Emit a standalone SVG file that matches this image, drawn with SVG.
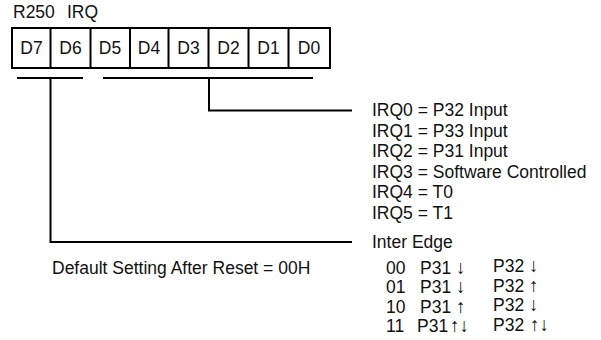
<svg xmlns="http://www.w3.org/2000/svg" width="601" height="340" viewBox="0 0 601 340">
<style>
text{font-family:"Liberation Sans",Arial,"DejaVu Sans",sans-serif;font-size:17.5px;fill:#111}
.c{text-anchor:middle}
.a{font-size:19px}
.ln{stroke:#000;stroke-width:2;fill:none}
</style>
<rect width="601" height="340" fill="#fff"/>
<g id="title"><text x="13" y="18">R250</text><text x="67" y="18">IRQ</text></g>
<g id="register">
<rect class="ln" x="12" y="28" width="318" height="40"/>
<path class="ln" d="M50.5 28V68M90.5 28V68M130 28V68M168.5 28V68M208.5 28V68M248.5 28V68M288.5 28V68"/>
<text class="c" x="31.5" y="54">D7</text>
<text class="c" x="70.5" y="54">D6</text>
<text class="c" x="110" y="54">D5</text>
<text class="c" x="149" y="54">D4</text>
<text class="c" x="188.5" y="54">D3</text>
<text class="c" x="228.5" y="54">D2</text>
<text class="c" x="268.5" y="54">D1</text>
<text class="c" x="309" y="54">D0</text>
</g>
<g id="connectors">
<path class="ln" d="M17 78H83M103 78H313"/>
<path class="ln" d="M209 78V110.5H352"/>
<path class="ln" d="M50.5 78V242H352"/>
</g>
<g id="irq-sources">
<text x="372" y="116">IRQ0 = P32 Input</text>
<text x="372" y="136.5">IRQ1 = P33 Input</text>
<text x="372" y="157">IRQ2 = P31 Input</text>
<text x="372" y="177.5">IRQ3 = Software Controlled</text>
<text x="372" y="198">IRQ4 = T0</text>
<text x="372" y="218.5">IRQ5 = T1</text>
</g>
<g id="inter-edge">
<text x="372" y="248">Inter Edge</text>
<text x="386" y="273.5">00</text><text x="420" y="273.5">P31</text><text class="a" x="456" y="273.5">↓</text><text x="493" y="272">P32</text><text class="a" x="529" y="272">↓</text>
<text x="386" y="293">01</text><text x="420" y="293">P31</text><text class="a" x="456" y="293">↓</text><text x="493" y="291.5">P32</text><text class="a" x="529" y="291.5">↑</text>
<text x="386" y="312.5">10</text><text x="420" y="312.5">P31</text><text class="a" x="456" y="312.5">↑</text><text x="493" y="311">P32</text><text class="a" x="529" y="311">↓</text>
<text x="386" y="332">11</text><text x="417" y="332">P31</text><text class="a" x="450" y="332">↑↓</text><text x="493" y="330.5">P32</text><text class="a" x="530" y="330.5">↑↓</text>
</g>
<g id="default"><text x="52" y="274">Default Setting After Reset = 00H</text></g>
</svg>
